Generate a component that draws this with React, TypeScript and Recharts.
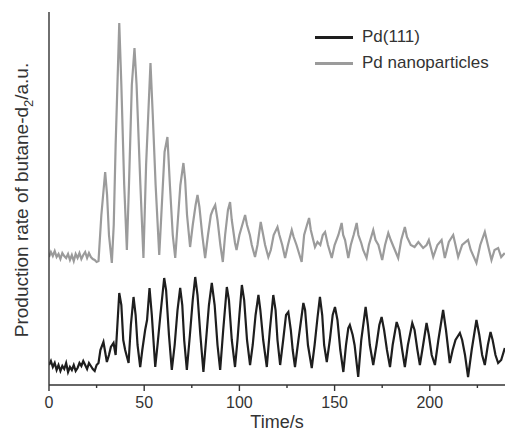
import { LineChart, Line, XAxis, YAxis } from 'recharts';

// Pd nanoparticles (grey trace)
const npTime = [
  0, 1, 2, 3, 4, 5, 6, 7, 8, 9, 10, 11, 12, 13, 14, 15, 16, 17, 18, 19, 20, 21, 22, 23, 24, 25, 26,
  27.5, 29.5, 30.5, 31.5, 33, 34, 35, 36.9, 38, 39.5, 40.9, 42, 43.5, 44.9, 46, 48, 49.6, 51, 53.3,
  54.5, 56, 57.9, 59, 60.7, 62.2, 63.5, 65, 66.3, 67.5, 69, 70.6, 71.5, 72.5, 74.1, 75.5, 77, 78, 79,
  80.5, 82, 83.5, 85, 86, 87.3, 88.5, 90, 91.3, 92.5, 94, 95.1, 96, 97.7, 98.5, 100, 101.5, 103, 104,
  105.5, 106.5, 108.2, 109.5, 111.2, 112, 113.5, 115.2, 116.5, 118, 120, 121, 122.5, 124, 125.5, 127.5,
  128.5, 130, 132.7, 134, 135.5, 136.6, 137.5, 139.7, 141, 142.5, 143.8, 145, 146.5, 148.5, 150, 152,
  153.7, 154.5, 155.5, 157.2, 158.5, 160, 161.6, 162.5, 164, 165, 166.8, 168, 170.3, 171.5, 173, 175,
  176.5, 178.2, 179.5, 181, 183.4, 185, 186.9, 188, 190, 192, 194, 196.5, 198.3, 199.5, 201.8, 204,
  206.2, 207.9, 210, 212.3, 213.5, 214.9, 217, 220.1, 221.5, 224.5, 226.5, 228.9, 230.5, 232.4, 234,
  235.9, 237.5, 239.4,
];
const npRate = [
  128, 133, 129, 134, 128, 131, 126, 132, 129, 127, 131, 125, 130, 124, 131, 127, 132, 126, 130, 133,
  127, 132, 128, 126, 125, 123, 124,
  170, 213, 190, 150, 122, 160, 240, 362, 300, 200, 135, 200, 300, 337, 300, 200, 127, 220, 322,
  270, 200, 130, 170, 233, 248, 200, 150, 127, 160, 200, 222, 205, 170, 138, 160, 180, 190, 178,
  150, 127, 150, 170, 175, 180, 165, 140, 123, 150, 175, 183, 165, 142, 135, 150, 160, 170, 160,
  150, 140, 128, 140, 163, 155, 140, 128, 135, 150, 158, 150, 140, 127, 140, 155,
  148, 140, 123, 150, 160, 167, 155, 138, 143, 140, 150, 153, 140, 127, 140, 150,
  162, 150, 145, 127, 140, 150, 162, 150, 142, 135, 127, 140, 155, 145, 140, 125,
  140, 152, 145, 138, 127, 145, 158, 148, 140, 138, 143, 137, 140, 145, 128, 140,
  145, 127, 143, 150, 140, 128, 140, 145, 135, 122, 140, 153, 140, 125, 135,
  137, 128, 132,
];

// Pd(111) (black trace)
const pdTime = [
  0, 1, 2, 3, 4, 5, 6, 7, 8, 9, 10, 11, 12, 13, 14, 15, 16, 17, 18, 19, 20, 21, 22, 23, 24, 25, 26,
  27, 28, 28.6, 29.5, 30.4, 31.5, 32.5, 33.9, 35, 36.9, 38, 39, 40, 41.8, 43, 44.4, 45.5, 46.5, 47.9,
  49, 50.5, 51.5, 52.8, 54, 55.8, 57, 58.5, 60.5, 61.5, 63, 64.5, 66, 67.5, 68.9, 70, 71, 72.4, 74,
  75.5, 76.8, 78, 79.5, 81.1, 82.5, 84, 85.5, 87, 88.5, 89.9, 91.5, 93.4, 94.5, 96, 97.7, 99, 100,
  101.3, 102.5, 104, 105.6, 107, 108.5, 110, 111, 112.5, 114.4, 116, 117.8, 119, 120, 121.4, 123,
  124.5, 125.7, 127, 128, 129.2, 131, 133.6, 134.5, 136, 138, 139.5, 141, 142.3, 143.5, 144.5, 145.9,
  147.5, 149, 150.2, 151.5, 153, 154.6, 156, 157.2, 158, 159.5, 160.5, 162.4, 164, 166.3, 167.5,
  168.5, 170.3, 172, 173.5, 174.7, 176, 177.5, 179.1, 180.5, 182.6, 184, 185.5, 186.9, 188.5, 190.8,
  192, 193.5, 194.8, 196.5, 198.3, 199.5, 201, 202.7, 204.5, 207, 208.5, 210.5, 212, 213.5, 215.8,
  217, 218.5, 220.1, 222, 224.5, 226, 227.5, 228.9, 230.5, 231.9, 233, 234.5, 235.9, 237.5, 239.4,
];
const pdRate = [
  20, 24, 18, 22, 15, 20, 14, 19, 16, 22, 13, 18, 15, 20, 14, 17, 22, 19, 24, 20, 16, 22, 19, 16, 14,
  20, 22,
  35, 40, 43, 33, 23, 30, 38, 42, 30, 92, 80, 45, 35, 22, 60, 88, 70, 40, 18,
  35, 55, 65, 97, 70, 18, 40, 70, 107, 95, 50, 15, 40, 75, 97, 80, 45, 15, 50,
  85, 108, 90, 50, 13, 45, 80, 102, 80, 40, 15, 55, 98, 85, 45, 18, 45, 70,
  100, 85, 45, 20, 40, 70, 90, 75, 45, 18, 55, 90, 75, 45, 20, 45,
  70, 73, 55, 35, 18, 45, 82, 75, 40, 17, 40, 67, 88, 70, 40, 23,
  45, 70, 78, 65, 35, 13, 40, 57, 60, 50, 40, 8, 45, 78, 60,
  40, 20, 40, 60, 68, 55, 35, 18, 40, 63, 55, 35, 18, 40, 62,
  55, 35, 20, 40, 62, 50, 30, 20, 45, 75, 55, 22, 35, 45, 52,
  45, 30, 8, 35, 65, 50, 30, 20, 40, 53, 45, 30, 22, 25, 37,
];

const xTicks = [0, 25, 50, 75, 100, 125, 150, 175, 200, 225];

const legendItems = [
  { name: 'Pd(111)', color: '#1e1e1e' },
  { name: 'Pd nanoparticles', color: '#9b9b9b' },
];

const npData = npTime.map((t, i) => ({ t, v: npRate[i] }));
const pdData = pdTime.map((t, i) => ({ t, v: pdRate[i] }));

const FONT = 'Liberation Sans, Arial, sans-serif';

const TimeTick = (props: any) => {
  const { x, y, payload } = props;
  const major = payload.value % 50 === 0;
  return (
    <g>
      <line x1={x} x2={x} y1={y} y2={y + (major ? 6 : 3)} stroke="#333" strokeWidth={1.4} />
      {major && (
        <text x={x} y={y + 23} textAnchor="middle" fontSize={16} fill="#333" fontFamily={FONT}>
          {payload.value}
        </text>
      )}
    </g>
  );
};

export default function App() {
  return (
    <div style={{ position: 'fixed', left: 0, top: 0, width: 505, height: 432, background: '#fff' }}>
      <LineChart width={505} height={432} margin={{ top: 12, right: 0, left: 39, bottom: 0 }}>
        <XAxis
          type="number"
          dataKey="t"
          domain={[0, 239.5]}
          ticks={xTicks}
          tickSize={0}
          tickMargin={0}
          tickLine={false}
          tick={<TimeTick />}
          height={47}
          stroke="#333"
          strokeWidth={1.4}
          allowDataOverflow
          label={{ value: 'Time/s', position: 'insideBottom', offset: 4, fontSize: 18, fill: '#333', fontFamily: FONT }}
        />
        <YAxis type="number" domain={[0, 373]} width={10} tick={false} tickLine={false} stroke="#333" strokeWidth={1.4} />
        <Line data={npData} dataKey="v" name="Pd nanoparticles" stroke="#9b9b9b" strokeWidth={2.2} dot={false} isAnimationActive={false} />
        <Line data={pdData} dataKey="v" name="Pd(111)" stroke="#1e1e1e" strokeWidth={2.2} dot={false} isAnimationActive={false} />
      </LineChart>
      <svg width={40} height={432} style={{ position: 'absolute', left: 0, top: 0 }}>
        <text x={28} y={200} transform="rotate(-90, 28, 200)" textAnchor="middle" fontSize={19} fill="#333" fontFamily={FONT}>
          Production rate of butane-d<tspan dy={5} fontSize={13}>2</tspan><tspan dy={-5}>/a.u.</tspan>
        </text>
      </svg>
      <div style={{ position: 'absolute', left: 315, top: 24, fontFamily: FONT, fontSize: 17, color: '#333' }}>
        {legendItems.map(s => (
          <div key={s.name} style={{ display: 'flex', alignItems: 'center', height: 26 }}>
            <span style={{ display: 'inline-block', width: 38, height: 3, background: s.color, marginRight: 9 }} />
            <span>{s.name}</span>
          </div>
        ))}
      </div>
    </div>
  );
}
